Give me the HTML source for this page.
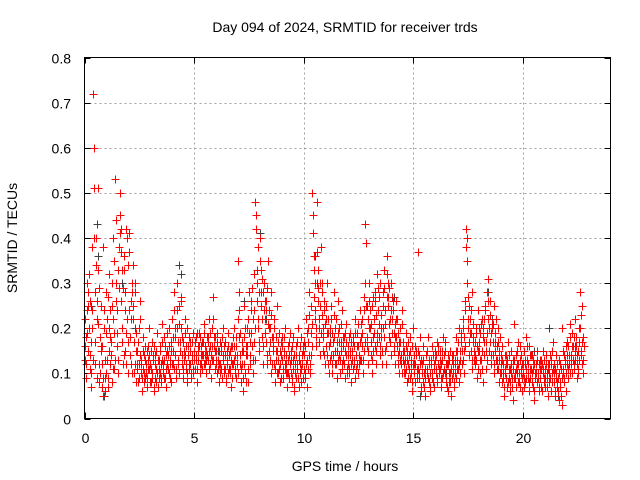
<!DOCTYPE html>
<html><head><meta charset="utf-8"><style>
body{margin:0;background:#fff;}
svg{display:block;font-family:"Liberation Sans",sans-serif;}
</style></head><body>
<svg id="chart" width="640" height="480">
<text x="345" y="32" font-size="14" text-anchor="middle">Day 094 of 2024, SRMTID for receiver trds</text>
<text x="345" y="471" font-size="14" text-anchor="middle">GPS time / hours</text>
<text transform="translate(17,238) rotate(-90)" font-size="14" text-anchor="middle">SRMTID / TECUs</text>
<g id="grid"></g>
<g id="ticks"></g>
<g id="gray"></g>
<g id="red"></g>
<rect x="84.5" y="57.5" width="526" height="361" fill="none" stroke="#000"/>
</svg>
<script>
const xTicks=[0,5,10,15,20];
const yTicks=[0,0.1,0.2,0.3,0.4,0.5,0.6,0.7,0.8];
const yTickLabels=["0","0.1","0.2","0.3","0.4","0.5","0.6","0.7","0.8"];
const binStart=0, binWidth=0.2, pointStep=0.033, secondOffset=0.0165;
const redBins=[
[.16,.22,.12,.30,.19,.25],[.32,.14,.26,.10,.38,.20],[.72,.60,.28,.12,.40,.22],[.51,.33,.08,.18,.25,.15],
[.12,.05,.38,.20,.09,.28],[.10,.22,.07,.15,.32,.18],[.14,.25,.08,.40,.19,.11],[.53,.30,.16,.24,.10,.38],
[.45,.50,.42,.20,.33,.12],[.36,.28,.15,.42,.22,.10],[.34,.41,.18,.26,.12,.30],[.34,.22,.10,.28,.15,.08],
[.15,.08,.20,.12,.26,.10],[.12,.06,.18,.10,.14,.09],[.10,.15,.07,.13,.20,.11],[.12,.08,.17,.10,.14,.06],
[.09,.14,.11,.19,.07,.13],[.13,.10,.16,.08,.21,.12],[.11,.18,.09,.14,.07,.15],[.14,.10,.20,.12,.08,.17],
[.22,.15,.28,.11,.18,.09],[.30,.20,.13,.25,.10,.17],[.26,.12,.18,.09,.15,.22],[.14,.11,.20,.08,.16,.12],
[.12,.17,.09,.14,.19,.10],[.15,.11,.18,.13,.08,.16],[.13,.19,.10,.16,.12,.14],[.17,.12,.21,.14,.10,.15],
[.14,.18,.11,.22,.16,.09],[.20,.13,.27,.16,.11,.18],[.15,.10,.19,.13,.08,.17],[.12,.16,.09,.20,.14,.11],
[.11,.17,.08,.13,.19,.10],[.14,.10,.16,.07,.12,.18],[.13,.20,.10,.16,.09,.14],[.35,.18,.24,.12,.08,.15],
[.12,.06,.18,.25,.10,.14],[.20,.14,.08,.28,.12,.17],[.26,.16,.10,.22,.32,.13],[.48,.45,.30,.20,.38,.15],
[.40,.33,.25,.18,.28,.12],[.30,.22,.17,.26,.12,.35],[.24,.15,.20,.10,.28,.18],[.18,.12,.22,.08,.15,.25],
[.15,.10,.19,.12,.08,.17],[.13,.18,.09,.15,.11,.20],[.12,.07,.16,.10,.14,.19],[.10,.15,.08,.13,.18,.06],
[.12,.09,.16,.11,.20,.07],[.14,.10,.18,.08,.12,.16],[.11,.17,.09,.22,.13,.07],[.20,.14,.28,.10,.25,.16],
[.50,.45,.36,.30,.22,.18],[.48,.33,.26,.20,.14,.30],[.38,.28,.20,.15,.24,.12],[.22,.16,.30,.12,.19,.10],
[.20,.14,.25,.10,.17,.28],[.18,.12,.22,.09,.15,.26],[.14,.20,.10,.17,.12,.24],[.13,.18,.09,.15,.21,.11],
[.12,.16,.10,.19,.14,.08],[.15,.11,.18,.13,.22,.09],[.14,.19,.10,.16,.12,.24],[.18,.13,.22,.10,.27,.15],
[.43,.39,.25,.16,.12,.20],[.30,.20,.14,.25,.10,.18],[.22,.16,.28,.12,.19,.32],[.24,.18,.30,.14,.20,.12],
[.28,.20,.33,.15,.24,.12],[.36,.25,.30,.18,.22,.14],[.30,.22,.26,.16,.19,.12],[.26,.18,.22,.12,.15,.10],
[.20,.14,.24,.10,.17,.12],[.15,.10,.19,.08,.13,.17],[.14,.09,.18,.12,.06,.16],[.20,.12,.16,.08,.14,.10],
[.37,.15,.10,.18,.07,.13],[.12,.08,.16,.10,.05,.14],[.14,.10,.18,.08,.12,.06],[.12,.16,.09,.14,.11,.07],
[.13,.10,.17,.08,.15,.11],[.11,.15,.07,.13,.09,.18],[.14,.10,.17,.08,.12,.06],[.12,.08,.15,.10,.05,.13],
[.10,.14,.07,.12,.18,.09],[.15,.11,.20,.08,.13,.17],[.18,.12,.22,.10,.15,.26],[.42,.40,.35,.20,.14,.25],
[.22,.15,.28,.11,.18,.13],[.17,.12,.20,.09,.15,.24],[.15,.10,.19,.13,.22,.08],[.20,.14,.25,.11,.17,.28],
[.31,.22,.15,.26,.12,.19],[.20,.14,.25,.10,.17,.22],[.16,.11,.20,.08,.13,.18],[.12,.08,.16,.10,.05,.14],
[.10,.14,.07,.12,.17,.09],[.11,.06,.15,.09,.13,.04],[.21,.10,.14,.07,.12,.17],[.12,.08,.16,.10,.14,.06],
[.10,.15,.07,.12,.18,.09],[.13,.09,.16,.06,.11,.14],[.10,.14,.07,.12,.04,.09],[.12,.08,.15,.10,.06,.13],
[.09,.13,.06,.11,.15,.08],[.11,.07,.14,.09,.05,.12],[.10,.14,.06,.12,.08,.17],[.08,.12,.05,.10,.14,.07],
[.09,.04,.13,.07,.11,.03],[.20,.10,.14,.08,.12,.06],[.12,.17,.09,.14,.21,.10],[.14,.19,.10,.16,.12,.22],
[.13,.18,.09,.15,.11,.20],[.28,.23,.15,.12,.18,.10]];
const redBins2=[
[.13,.18,.09,.24,.15,.28],[.20,.11,.17,.07,.24,.13],[.51,.40,.17,.34,.09,.26],[.21,.12,.29,.10,.16,.07],
[.16,.09,.24,.13,.06,.19],[.13,.27,.09,.20,.12,.24],[.17,.30,.11,.22,.35,.13],[.44,.26,.19,.33,.13,.29],
[.41,.37,.26,.17,.29,.14],[.33,.24,.12,.19,.40,.17],[.24,.37,.14,.22,.10,.28],[.25,.17,.30,.12,.19,.11],
[.12,.17,.09,.14,.22,.13],[.09,.15,.11,.08,.16,.13],[.12,.09,.16,.11,.14,.08],[.15,.11,.09,.13,.07,.16],
[.12,.08,.15,.10,.13,.09],[.11,.15,.09,.13,.17,.10],[.13,.09,.16,.11,.19,.12],[.11,.16,.13,.09,.15,.12],
[.18,.12,.24,.14,.20,.11],[.24,.17,.12,.21,.15,.27],[.20,.14,.11,.17,.13,.19],[.12,.16,.10,.14,.18,.11],
[.15,.10,.13,.17,.11,.14],[.13,.17,.14,.11,.19,.15],[.16,.12,.18,.14,.11,.17],[.14,.19,.12,.16,.13,.18],
[.17,.13,.15,.19,.12,.14],[.16,.22,.13,.18,.15,.12],[.13,.17,.11,.15,.12,.10],[.15,.11,.18,.13,.10,.16],
[.14,.09,.15,.12,.16,.11],[.11,.15,.13,.09,.16,.12],[.16,.11,.14,.18,.12,.10],[.22,.28,.14,.19,.11,.17],
[.09,.15,.12,.20,.08,.16],[.16,.22,.11,.19,.14,.24],[.19,.29,.13,.24,.17,.20],[.42,.33,.26,.22,.17,.28],
[.35,.28,.22,.31,.16,.24],[.26,.19,.24,.14,.29,.21],[.20,.13,.17,.23,.12,.16],[.15,.20,.11,.18,.13,.10],
[.13,.17,.11,.15,.09,.14],[.16,.11,.14,.18,.12,.10],[.14,.10,.13,.17,.09,.12],[.13,.09,.16,.11,.07,.14],
[.10,.14,.12,.17,.09,.13],[.12,.16,.11,.14,.09,.15],[.14,.10,.16,.12,.19,.11],[.17,.23,.12,.19,.14,.21],
[.41,.33,.27,.24,.16,.20],[.37,.29,.22,.17,.25,.19],[.30,.23,.18,.26,.14,.21],[.25,.19,.14,.22,.16,.13],
[.17,.22,.12,.19,.14,.23],[.15,.20,.12,.17,.13,.19],[.17,.13,.21,.15,.11,.18],[.16,.12,.19,.14,.17,.10],
[.14,.18,.11,.15,.12,.17],[.13,.17,.12,.16,.19,.11],[.16,.12,.21,.14,.17,.13],[.21,.16,.19,.13,.24,.17],
[.30,.25,.18,.22,.15,.26],[.24,.17,.21,.13,.27,.15],[.19,.26,.15,.23,.17,.29],[.21,.27,.16,.23,.18,.15],
[.25,.18,.29,.21,.16,.27],[.32,.27,.21,.29,.17,.24],[.27,.19,.24,.15,.21,.18],[.22,.16,.19,.14,.17,.13],
[.17,.12,.21,.13,.15,.10],[.13,.16,.11,.15,.09,.12],[.11,.15,.10,.13,.08,.12],[.14,.10,.12,.15,.09,.11],
[.11,.14,.09,.12,.06,.10],[.10,.13,.07,.11,.09,.14],[.11,.15,.09,.13,.10,.07],[.13,.10,.14,.08,.12,.15],
[.11,.14,.09,.12,.16,.10],[.13,.09,.12,.15,.10,.14],[.11,.15,.09,.12,.07,.14],[.10,.13,.08,.11,.14,.09],
[.12,.08,.13,.10,.15,.11],[.13,.17,.12,.15,.10,.19],[.15,.20,.13,.18,.24,.16],[.38,.30,.22,.27,.17,.19],
[.19,.24,.13,.17,.21,.15],[.14,.19,.13,.16,.11,.20],[.17,.13,.21,.15,.11,.18],[.22,.17,.24,.15,.19,.13],
[.26,.20,.17,.23,.14,.21],[.17,.21,.12,.19,.15,.13],[.13,.17,.11,.15,.10,.14],[.10,.13,.09,.12,.07,.11],
[.12,.09,.13,.08,.11,.14],[.08,.12,.10,.07,.11,.09],[.13,.09,.11,.15,.10,.08],[.10,.13,.07,.11,.09,.12],
[.12,.09,.13,.08,.11,.16],[.10,.12,.08,.14,.09,.11],[.08,.11,.13,.06,.10,.12],[.10,.13,.09,.12,.07,.11],
[.11,.07,.12,.10,.13,.09],[.09,.12,.10,.07,.11,.08],[.12,.09,.13,.10,.15,.11],[.10,.06,.11,.09,.12,.08],
[.06,.10,.08,.12,.05,.09],[.11,.15,.09,.13,.16,.10],[.14,.11,.16,.12,.18,.13],[.12,.16,.13,.18,.11,.15],
[.16,.12,.14,.10,.17,.13],[.20,.14,.17,.25,.13,.16]];
const grayTimes=[0.3,0.55,0.6,0.9,1.7,2.3,3.5,4.3,4.4,6.1,7.3,8.0,8.3,10.5,10.6,11.2,12.9,13.5,14.1,15.3,16.5,17.6,18.4,18.6,19.4,20.5,21.2,21.6,22.4];
const grayValues=[0.25,0.43,0.36,0.05,0.30,0.20,0.12,0.34,0.32,0.15,0.26,0.41,0.22,0.36,0.30,0.19,0.25,0.16,0.27,0.05,0.10,0.22,0.28,0.22,0.08,0.15,0.20,0.05,0.16];
const NS='http://www.w3.org/2000/svg';
const X0=84.5,X1=610.5,Y0=418.5,Y1=57.5;
function xs(t){return X0+(t-0)/(24-0)*(X1-X0);}
function ys(v){return Y0-(v-0)/(0.8-0)*(Y0-Y1);}
function mk(tag,attrs,parent){const e=document.createElementNS(NS,tag);for(const k in attrs)e.setAttribute(k,attrs[k]);parent.appendChild(e);return e;}
const grid=document.getElementById('grid'),ticks=document.getElementById('ticks');
xTicks.forEach(t=>{const x=Math.round(xs(t))+0.5;
 if(t>0){const g=mk('line',{x1:x,x2:x,y1:Y1,y2:Y0,stroke:'#a0a0a0','stroke-dasharray':'2,3'},grid);
 
 }
 mk('line',{x1:x,x2:x,y1:Y0,y2:Y0-6,stroke:'#000'},ticks);
 mk('line',{x1:x,x2:x,y1:Y1,y2:Y1+6,stroke:'#000'},ticks);
 const l=mk('text',{x:x,y:443,'font-size':14,'text-anchor':'middle'},ticks);l.textContent=t;
 
 });
yTicks.forEach((v,i)=>{const y=Math.round(ys(v))+0.5;
 if(v>0&&v<0.8){const g=mk('line',{x1:X0,x2:X1,y1:y,y2:y,stroke:'#a0a0a0','stroke-dasharray':'2,3'},grid);
 
 }
 mk('line',{x1:X0,x2:X0+6,y1:y,y2:y,stroke:'#000'},ticks);
 mk('line',{x1:X1,x2:X1-6,y1:y,y2:y,stroke:'#000'},ticks);
 const l=mk('text',{x:71,y:y+5,'font-size':14,'text-anchor':'end'},ticks);l.textContent=yTickLabels[i];
 
 });
function plus(x,y){return 'M'+(x-4)+' '+y+'h8M'+x+' '+(y-4)+'v8';}
let gd='';grayTimes.forEach((t,i)=>{gd+=plus(Math.round(xs(t))+0.5,Math.round(ys(grayValues[i]))+0.5);});
const gp=mk('path',{d:gd,stroke:'#404040','stroke-width':1,fill:'none'},document.getElementById('gray'));


let rd='';
redBins.forEach((bin,i)=>{bin.forEach((v,j)=>{const t=binStart+i*binWidth+j*pointStep;
 rd+=plus(Math.round(xs(t))+0.5,Math.round(ys(v))+0.5);});});
redBins2.forEach((bin,i)=>{bin.forEach((v,j)=>{const t=binStart+i*binWidth+j*pointStep+secondOffset;
 rd+=plus(Math.round(xs(t))+0.5,Math.round(ys(v))+0.5);});});
const rp=mk('path',{d:rd,stroke:'#ff0000','stroke-width':1,fill:'none'},document.getElementById('red'));


</script>
</body></html>
